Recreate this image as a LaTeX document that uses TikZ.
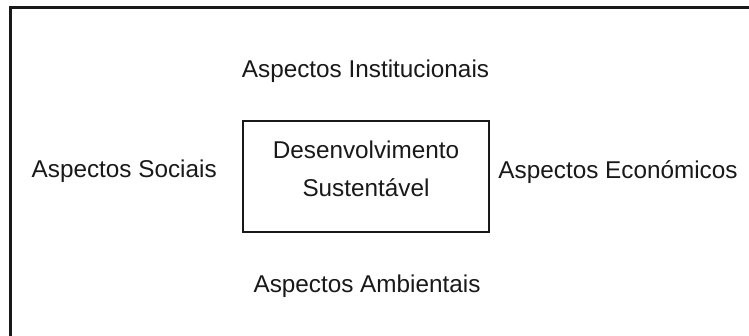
\documentclass[tikz,border=0pt]{standalone}
\usepackage{fontspec}
\setmainfont{Liberation Sans}
\begin{document}
\begin{tikzpicture}[x=1pt,y=-1pt,
  lbl/.style={inner sep=0pt, anchor=base, font=\fontsize{24.3}{29}\selectfont, text=black!90},
  centrebox/.style={draw=black!90, line width=1.8pt, minimum width=246pt, minimum height=111pt,
    inner sep=0pt, align=center, font=\fontsize{24.3}{38.4}\selectfont, text=black!90}]
\useasboundingbox (0,0) rectangle (749,335);
\fill[white] (0,0) rectangle (749,335);
% outer frame (right and bottom sides lie outside the picture)
\coordinate (fbl) at (10.5,345);
\coordinate (ftl) at (10.5,7.5);
\coordinate (ftr) at (760,7.5);
\draw[line width=2.6pt, black!90] (fbl) -- (ftl) -- (ftr);
% centre box
\node[centrebox] (ds) at (366,176.5) {Desenvolvimento\\Sustentável\rule[-16pt]{0pt}{16pt}};
% aspects
\node[lbl] (inst) at (365.5,77) {Aspectos Institucionais};
\node[lbl] (soc) at (124.2,177.7) {Aspectos Sociais};
\node[lbl] (eco) at (618,178.3) {Aspectos Económicos};
\node[lbl] (amb) at (367,292.7) {Aspectos Ambientais};
\end{tikzpicture}
\end{document}
